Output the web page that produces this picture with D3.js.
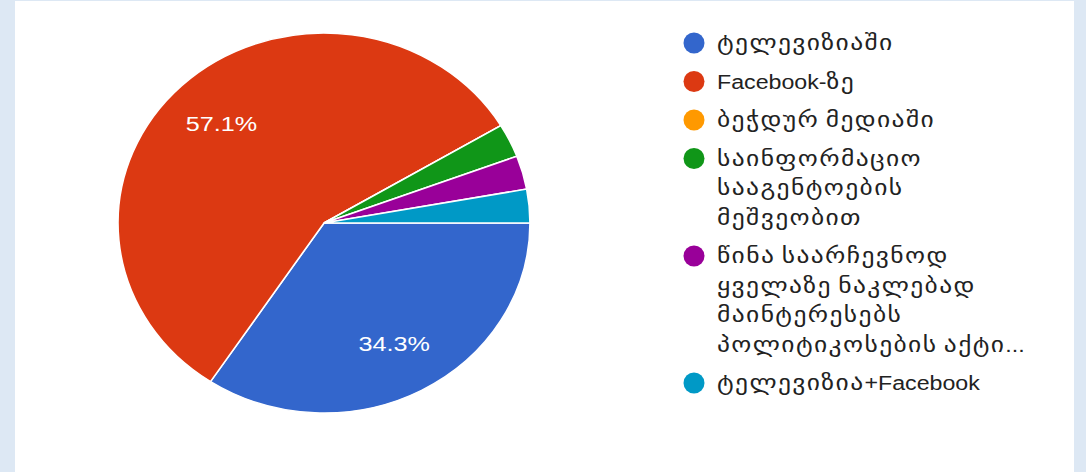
<!DOCTYPE html>
<html>
<head>
<meta charset="utf-8">
<script src="https://cdn.jsdelivr.net/npm/d3@7"></script>
<style>
  body { margin: 0; background: #fff; }
  text { font-family: "Liberation Sans", Arial, "DejaVu Sans", sans-serif; }
</style>
</head>
<body>
<svg id="chart" width="1086" height="472"></svg>
<script>
// survey answers (counts of 35 responses)
var categories = ['ტელევიზიაში', 'Facebook-ზე', 'ბეჭდურ მედიაში', 'საინფორმაციო სააგენტოების მეშვეობით',
                  'წინა საარჩევნოდ ყველაზე ნაკლებად მაინტერესებს პოლიტიკოსების აქტი...', 'ტელევიზია+Facebook'];
var counts = [12, 20, 0, 1, 1, 1];
var colors = ['#3366cc', '#dc3912', '#ff9900', '#109618', '#990099', '#0099c6'];
// legend lines as they wrap in the picture
var legendLines = [
    ['ტელევიზიაში'],
    ['Facebook-ზე'],
    ['ბეჭდურ მედიაში'],
    ['საინფორმაციო', 'სააგენტოების', 'მეშვეობით'],
    ['წინა საარჩევნოდ', 'ყველაზე ნაკლებად', 'მაინტერესებს', 'პოლიტიკოსების აქტი...'],
    ['ტელევიზია+Facebook']
];

var formatPct = d3.format('.1%');
var total = d3.sum(counts);

var svg = d3.select('#chart');

// frame
svg.append('rect').attr('width', 1086).attr('height', 472).attr('fill', '#dde8f4');
svg.append('rect').attr('x', 15).attr('y', 1).attr('width', 1059).attr('height', 471).attr('fill', '#fff');

var cx = 324, cy = 223, ry = 190, rx = 206;
var sx = rx / ry;

var pie = d3.pie()
    .sort(null)
    .value(function(d) { return d; })
    .startAngle(Math.PI / 2)
    .endAngle(Math.PI / 2 + 2 * Math.PI);

var arc = d3.arc().innerRadius(0).outerRadius(ry);
var labelArc = d3.arc().innerRadius(ry * 0.72).outerRadius(ry * 0.72);

var arcs = pie(counts);

var g = svg.append('g')
    .attr('transform', 'translate(' + cx + ',' + cy + ') scale(' + sx + ',1)');

g.selectAll('path')
    .data(arcs)
  .enter().append('path')
    .attr('d', arc)
    .attr('fill', function(d, i) { return colors[i]; })
    .attr('stroke', '#fff')
    .attr('stroke-width', 1.5);

// percentage labels only on the big slices
svg.append('g').selectAll('text')
    .data(arcs.filter(function(d) { return d.value / total > 0.1; }))
  .enter().append('text')
    .attr('transform', function(d) {
        var c = labelArc.centroid(d);
        return 'translate(' + (cx + c[0] * sx) + ',' + (cy + c[1]) + ') scale(1.2,1)';
    })
    .attr('text-anchor', 'middle')
    .attr('dy', '0.35em')
    .attr('fill', '#fff')
    .attr('font-size', 21)
    .text(function(d) { return formatPct(d.value / total); });

// legend
var legend = svg.append('g');
var line = 0;
legendLines.forEach(function(lines, i) {
    var y0 = 43 + line * 29.5 + i * 9;
    legend.append('circle')
        .attr('cx', 694)
        .attr('cy', y0)
        .attr('r', 10.5)
        .attr('fill', colors[i]);
    lines.forEach(function(t, j) {
        var txt = legend.append('text')
            .attr('transform', 'translate(717,' + (y0 + j * 29.5) + ') scale(1.16,1)')
            .attr('dy', '0.35em')
            .attr('fill', '#222')
            .attr('font-size', 20);
        // georgian runs are drawn bigger, like the source font
        t.split(/([\u10A0-\u10FF]+)/).forEach(function(part) {
            if (!part) return;
            var geo = /[\u10A0-\u10FF]/.test(part);
            txt.append('tspan')
                .attr('font-size', geo ? 22 : 20)
                .attr('letter-spacing', geo ? 1.2 : 0)
                .text(part);
        });
    });
    line += lines.length;
});
</script>
</body>
</html>
